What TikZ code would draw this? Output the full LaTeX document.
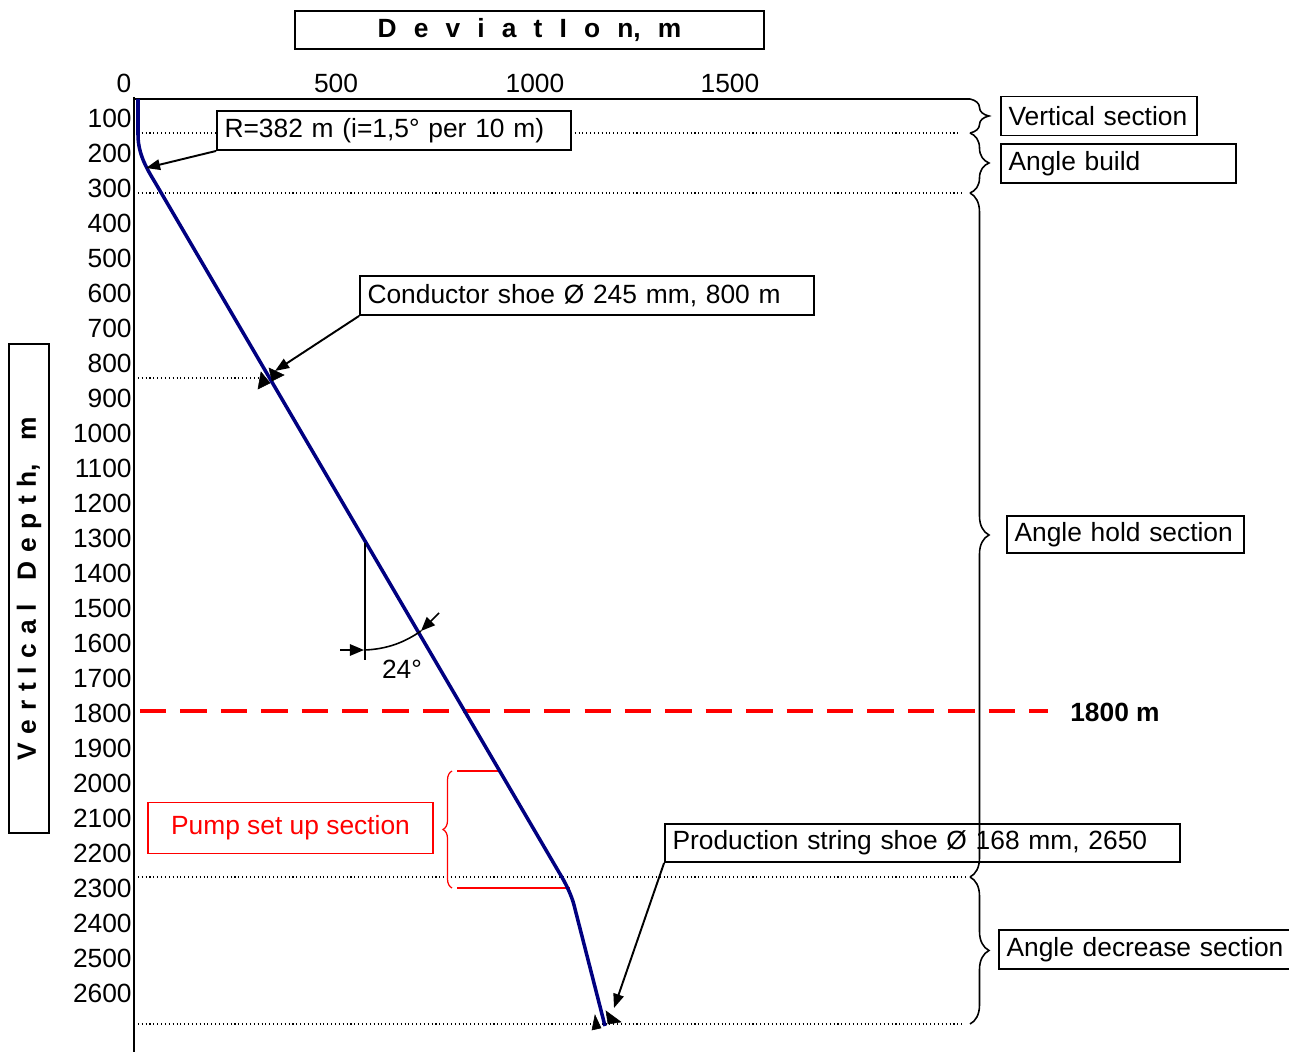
\documentclass[tikz,border=0pt]{standalone}
\usepackage{fontspec}
\setmainfont{Liberation Sans}
\usetikzlibrary{arrows.meta,decorations.pathreplacing}
\definecolor{wellblue}{RGB}{0,0,128}
\begin{document}
\begin{tikzpicture}[x=0.02cm,y=-0.02cm,font=\fontsize{15}{18}\selectfont,
  lbox/.style={draw,fill=white,line width=1.1pt,inner xsep=0.15cm,inner ysep=0pt,align=left,minimum height=0.78cm},
  dotline/.style={line width=0.6pt,dash pattern=on 0.6pt off 1.6pt},
  arr/.style={line width=1.1pt,-{Triangle[length=8pt,width=6pt]}},
  rbrace/.style={decorate,decoration={brace,amplitude=0.38cm},line width=0.9pt},
  shoe/.style={fill=black,draw=black,line width=0.3pt}]
\useasboundingbox (0,0) rectangle (1289,1054);

% axes
\coordinate (ax0) at (134,97);
\coordinate (ax1) at (134,1052);
\coordinate (top0) at (134,99);
\coordinate (top1) at (970,99);
\draw[line width=1.1pt] (ax0) -- (ax1);
\draw[line width=1.1pt] (top0) -- (top1);

% x tick labels
\node (x0) at (124,83) {0};
\node (x500) at (336,83) {500};
\node (x1000) at (535,83) {1000};
\node (x1500) at (730,83) {1500};

% y tick labels
\foreach \d in {100,200,...,2600}
  \node[anchor=east,inner sep=0pt] (t\d) at (132,{83+0.35*\d}) {\d};

% title boxes
\node[draw,line width=1.1pt,minimum width=9.38cm,minimum height=0.76cm,inner sep=0pt,font=\fontsize{15}{18}\selectfont\bfseries] (title) at (529.5,30)
 {D\hspace{0.65em}e\hspace{0.65em}v\hspace{0.65em}i\hspace{0.65em}a\hspace{0.65em}t\hspace{0.65em}I\hspace{0.65em}o\hspace{0.65em}n,\hspace{0.65em}m};
\node[draw,line width=1.1pt,minimum width=9.78cm,minimum height=0.8cm,inner sep=0pt,rotate=90,font=\fontsize{15}{18}\selectfont\bfseries] (vtitle) at (29,588.5)
 {V\hspace{0.33em}e\hspace{0.33em}r\hspace{0.33em}t\hspace{0.33em}I\hspace{0.33em}c\hspace{0.33em}a\hspace{0.33em}l\hspace{0.9em}D\hspace{0.33em}e\hspace{0.33em}p\hspace{0.33em}t\hspace{0.33em}h,\hspace{0.9em}m};

% dotted section lines
\coordinate (d1a) at (134,133); \coordinate (d1b) at (958,133);
\coordinate (d2a) at (134,193); \coordinate (d2b) at (962,193);
\coordinate (d3a) at (134,378); \coordinate (d3b) at (262,378);
\coordinate (d4a) at (134,877); \coordinate (d4b) at (966,877);
\coordinate (d5a) at (134,1024); \coordinate (d5b) at (962,1024);
\draw[dotline] (d1a) -- (d1b);
\draw[dotline] (d2a) -- (d2b);
\draw[dotline] (d3a) -- (d3b);
\draw[dotline] (d4a) -- (d4b);
\draw[dotline] (d5a) -- (d5b);

% red dashed 1800 m line
\coordinate (r1) at (140,711); \coordinate (r2) at (1048,711);
\draw[red,line width=2.3pt,dash pattern=on 15pt off 8pt] (r1) -- (r2);
\node[font=\fontsize{15}{18}\selectfont\bfseries] (m1800) at (1115,712) {1800 m};

% pump set up section
\coordinate (p1a) at (457,771); \coordinate (p1b) at (501,771);
\coordinate (p2a) at (457,888); \coordinate (p2b) at (570,888);
\draw[red,line width=1.6pt] (p1a) -- (p1b);
\draw[red,line width=1.6pt] (p2a) -- (p2b);
\coordinate (pb1) at (452,888); \coordinate (pb2) at (452,771);
\draw[red,decorate,decoration={brace,amplitude=0.18cm},line width=0.7pt] (pb1) -- (pb2);
\node[draw=red,text=red,line width=0.8pt,minimum width=5.7cm,minimum height=1.02cm,inner sep=0pt] (pump) at (290.5,828) {Pump set up section};

% well trajectory
\coordinate (w0) at (138,99);
\coordinate (wend) at (605,1026);
\draw[wellblue,line width=2pt,line join=round] (w0) -- (138,135) .. controls (138,156) and (149,172) .. (156,184)
  -- (560,874) .. controls (565,882) and (571.5,895) .. (574,905) -- (wend);

% angle annotation
\coordinate (v1) at (365,543); \coordinate (v2) at (365,660);
\draw[line width=0.9pt] (v1) -- (v2);
\coordinate (a0) at (340,650); \coordinate (a1) at (364,650);
\draw[line width=0.9pt,-{Triangle[length=8pt,width=6.5pt]}] (a0) -- (a1);
\coordinate (a2) at (365,650); \coordinate (a3) at (421,631);
\draw[line width=0.9pt] (a2) .. controls (388,649) and (405,642) .. (a3);
\coordinate (a4) at (439,613);
\draw[line width=0.9pt,-{Triangle[length=8pt,width=6.5pt]}] (a4) -- (a3);
\node (ang) at (402,669) {24°};

% label boxes
\node[lbox,text width={3.92cm-0.3cm}] (vs) at (1099,116) {Vertical section};
\node[lbox,text width={4.70cm-0.3cm}] (ab) at (1118.5,163.5) {Angle build};
\node[lbox,text width={4.74cm-0.3cm},minimum height=0.74cm] (ah) at (1125.5,534.5) {Angle hold section};
\node[lbox,text width={5.88cm-0.3cm}] (ad) at (1146,949.5) {Angle decrease section};
\node[lbox,text width={7.08cm-0.3cm}] (rb) at (394,130.5) {R=382 m (i=1,5° per 10 m)};
\node[lbox,text width={9.08cm-0.3cm}] (cs) at (587,295.5) {Conductor shoe Ø 245 mm, 800 m};
\node[lbox,text width={10.3cm-0.3cm},minimum height=0.76cm] (ps) at (922.5,843) {Production string shoe Ø 168 mm, 2650};

% braces
\coordinate (b1) at (970,99); \coordinate (b2) at (970,133);
\coordinate (b3) at (970,193); \coordinate (b4) at (970,877);
\coordinate (b5) at (970,1024);
\draw[rbrace] (b1) -- (b2);
\draw[rbrace] (b2) -- (b3);
\draw[rbrace] (b3) -- (b4);
\draw[rbrace] (b4) -- (b5);

% arrows from labels
\coordinate (rt) at (146,168);
\draw[arr] (rb.south west) -- (rt);
\coordinate (ct) at (275,371);
\draw[arr] (cs.south west) -- (ct);
\coordinate (pt) at (614,1008);
\draw[arr] (ps.south west) -- (pt);

% shoe markers
\draw[shoe] (261,372) -- (258,389) -- (270,383) -- cycle;
\draw[shoe] (269,368) -- (272,381) -- (284,375) -- cycle;
\draw[shoe] (595,1015) -- (592,1030) -- (601,1028) -- cycle;
\draw[shoe] (606,1011) -- (608,1024) -- (621,1022) -- cycle;
\end{tikzpicture}
\end{document}
